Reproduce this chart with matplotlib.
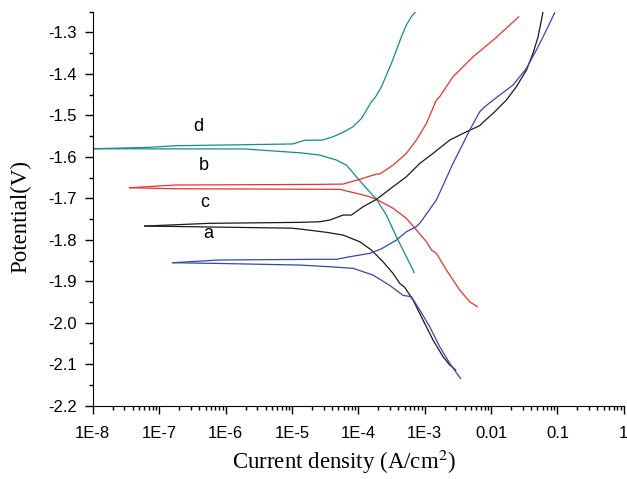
import numpy as np
import matplotlib
matplotlib.use("Agg")
import matplotlib.pyplot as plt
from matplotlib.ticker import MultipleLocator, LogLocator, NullFormatter

# polarization data: log10(current density) and potential (V) for each branch
d_cath_logi = [-8.0, -5.711, -5.410, -4.883, -4.581, -4.330, -4.179, -4.029, -3.878, -3.727, -3.577, -3.426, -3.327, -3.226, -3.176, -3.161]
d_cath_E = [-1.5806, -1.581, -1.5845, -1.5902, -1.5958, -1.6078, -1.620, -1.648, -1.676, -1.7025, -1.7404, -1.7927, -1.8247, -1.857, -1.873, -1.8794]
d_anod_logi = [-8.0, -7.142, -6.765, -4.988, -4.807, -4.541, -4.381, -4.230, -4.080, -3.953, -3.878, -3.803, -3.738, -3.652, -3.577, -3.502, -3.426, -3.351, -3.276, -3.200, -3.136]
d_anod_E = [-1.5806, -1.577, -1.5733, -1.569, -1.560, -1.5596, -1.5516, -1.541, -1.5275, -1.5073, -1.4873, -1.4673, -1.455, -1.431, -1.403, -1.3747, -1.3427, -1.3106, -1.282, -1.262, -1.25]

b_cath_logi = [-7.443, -6.765, -4.883, -4.278, -3.979, -3.828, -3.727, -3.477, -3.276, -3.125, -2.974, -2.899, -2.824, -2.673, -2.473, -2.322, -2.206]
b_cath_E = [-1.6746, -1.677, -1.678, -1.6784, -1.690, -1.6963, -1.7025, -1.724, -1.7483, -1.7765, -1.8047, -1.8247, -1.8327, -1.873, -1.9211, -1.9493, -1.9614]
b_anod_logi = [-7.443, -6.765, -4.581, -4.230, -3.979, -3.727, -3.677, -3.477, -3.276, -3.125, -2.974, -2.824, -2.774, -2.574, -2.273, -1.971, -1.770, -1.584]
b_anod_E = [-1.6746, -1.668, -1.6664, -1.6657, -1.6543, -1.6415, -1.6415, -1.620, -1.5917, -1.5596, -1.5194, -1.463, -1.455, -1.407, -1.359, -1.319, -1.290, -1.2625]

c_cath_logi = [-7.217, -5.0, -4.883, -4.480, -4.230, -3.979, -3.803, -3.628, -3.477, -3.377, -3.301, -3.176, -3.026, -2.875, -2.724, -2.623, -2.533]
c_cath_E = [-1.7669, -1.772, -1.774, -1.782, -1.7886, -1.8047, -1.8247, -1.853, -1.881, -1.905, -1.9146, -1.9452, -1.9934, -2.0416, -2.0819, -2.1019, -2.114]
c_anod_logi = [-7.217, -6.238, -4.883, -4.581, -4.431, -4.230, -4.104, -3.929, -3.727, -3.477, -3.276, -3.075, -2.875, -2.623, -2.372, -2.172, -2.122, -1.971, -1.770, -1.619, -1.468, -1.369, -1.293, -1.242, -1.218]
c_anod_E = [-1.7669, -1.7603, -1.758, -1.7565, -1.7524, -1.7404, -1.7404, -1.7204, -1.7025, -1.672, -1.648, -1.616, -1.5917, -1.5596, -1.5396, -1.525, -1.517, -1.4953, -1.4632, -1.431, -1.391, -1.3507, -1.311, -1.2704, -1.25]

a_cath_logi = [-6.795, -6.113, -4.883, -4.431, -4.080, -3.779, -3.527, -3.327, -3.200, -3.075, -2.925, -2.774, -2.623, -2.462]
a_cath_E = [-1.8553, -1.857, -1.8609, -1.865, -1.8688, -1.885, -1.9099, -1.934, -1.9373, -1.9693, -2.0096, -2.0578, -2.0978, -2.134]
a_anod_logi = [-6.795, -6.113, -4.581, -4.330, -4.130, -3.828, -3.654, -3.426, -3.276, -3.125, -3.075, -2.950, -2.824, -2.699, -2.574, -2.447, -2.322, -2.172, -2.096, -1.870, -1.670, -1.468, -1.318, -1.167, -1.042]
a_anod_E = [-1.8553, -1.8488, -1.847, -1.847, -1.8409, -1.8327, -1.822, -1.8006, -1.7806, -1.768, -1.7604, -1.7324, -1.704, -1.660, -1.616, -1.5758, -1.5355, -1.4914, -1.4793, -1.4511, -1.427, -1.3868, -1.3427, -1.2945, -1.2528]

curve_names = ["d", "b", "c", "a"]
curve_colors = ["#148c88", "#e8332b", "#1a1a1a", "#3547ad"]
label_logi = [-6.404, -6.328, -6.313, -6.268]
label_E = [-1.526, -1.620, -1.709, -1.786]

xtick_vals = [1e-8, 1e-7, 1e-6, 1e-5, 1e-4, 1e-3, 1e-2, 1e-1, 1]
xtick_labels = ["1E-8", "1E-7", "1E-6", "1E-5", "1E-4", "1E-3", "0.01", "0.1", "1"]

branches = {
    "d": (d_cath_logi, d_cath_E, d_anod_logi, d_anod_E),
    "b": (b_cath_logi, b_cath_E, b_anod_logi, b_anod_E),
    "c": (c_cath_logi, c_cath_E, c_anod_logi, c_anod_E),
    "a": (a_cath_logi, a_cath_E, a_anod_logi, a_anod_E),
}

plt.rcParams['font.family'] = ['Liberation Sans', 'DejaVu Sans']
plt.rcParams['mathtext.fontset'] = 'stix'

fig = plt.figure(figsize=(6.27, 4.79), dpi=100)
ax = fig.add_axes([0.148, 0.153, 0.847, 0.8227])

for name, col in zip(curve_names, curve_colors):
    cl, ce, al, ae = branches[name]
    ax.plot(10 ** np.array(cl), ce, color=col, lw=0.9)
    ax.plot(10 ** np.array(al), ae, color=col, lw=0.9)

for name, lx, ly in zip(curve_names, label_logi, label_E):
    ax.text(10 ** lx, ly, name, fontsize=13, ha="center", va="center")

ax.set_xscale("log")
ax.set_xlim(1e-8, 1)
ax.set_ylim(-2.2, -1.25)
ax.set_xticks(xtick_vals)
ax.set_xticklabels(xtick_labels)
ax.xaxis.set_minor_locator(LogLocator(base=10, subs=np.arange(2, 10), numticks=20))
ax.xaxis.set_minor_formatter(NullFormatter())
ax.yaxis.set_major_locator(MultipleLocator(0.1))
ax.yaxis.set_minor_locator(MultipleLocator(0.05))
ax.yaxis.set_major_formatter(plt.FuncFormatter(lambda v, p: "%.1f" % v))

ax.spines["top"].set_visible(False)
ax.spines["right"].set_visible(False)
ax.tick_params(which="major", direction="out", length=5.8, width=1, labelsize=12)
ax.tick_params(which="minor", direction="out", length=3, width=1)
ax.tick_params(axis="x", which="major", pad=8.5)
ax.tick_params(axis="y", which="major", pad=5.5)

ax.set_xlabel("Current density (A/cm$^2$)", fontsize=16.5, family="Liberation Serif")
ax.set_ylabel("Potential(V)", fontsize=16.5, family="Liberation Serif")
ax.xaxis.set_label_coords(0.473, -0.107)
ax.yaxis.set_label_coords(-0.116, 0.479)

fig.savefig("out.png", dpi=100)
